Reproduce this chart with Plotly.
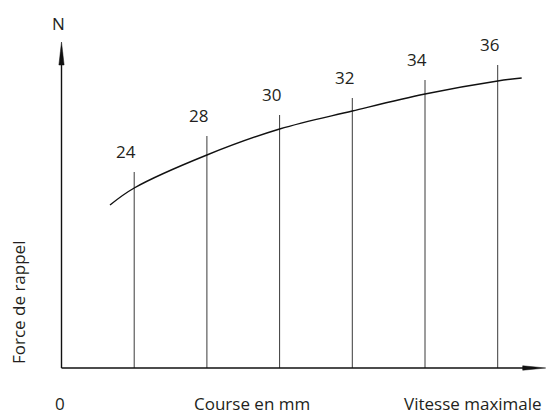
import plotly.graph_objects as go

# ---- data ----
course_labels = ["24", "28", "30", "32", "34", "36"]
course_pos = [1, 2, 3, 4, 5, 6]
line_tops = [196, 232, 253, 270, 288, 303]
curve_x = [0.667, 1, 2, 3, 4, 5, 6, 6.33]
curve_y = [163, 180, 213, 239, 257, 274, 287, 290]

# ---- geometry (axis extents in data units) ----
X_END = 6.66
Y_END = 326
PX_PER_X = 72.7  # pixels per x unit (y unit = 1 px)
X0_PX = 61.5
W, H = 547, 414
Y0_PX = 368

x_range = [-X0_PX / PX_PER_X, (W - X0_PX) / PX_PER_X]
y_range = [Y0_PX - H, Y0_PX]

FONT = "Open Sans"
TXT = "#231f20"
FS = 17

fig = go.Figure()

# vertical lines
for xp, top in zip(course_pos, line_tops):
    fig.add_trace(go.Scatter(x=[xp, xp], y=[0, top], mode="lines",
                             line=dict(color="#3a3a3a", width=1), hoverinfo="skip"))

# curve
fig.add_trace(go.Scatter(x=curve_x, y=curve_y, mode="lines",
                         line=dict(color="#111", width=1.4, shape="spline", smoothing=1.0),
                         hoverinfo="skip"))

# axes lines
fig.add_trace(go.Scatter(x=[0, X_END - 0.2], y=[0, 0], mode="lines",
                         line=dict(color="#111", width=1.4), hoverinfo="skip"))
fig.add_trace(go.Scatter(x=[0, 0], y=[0, Y_END - 10], mode="lines",
                         line=dict(color="#111", width=1.4), hoverinfo="skip"))

# arrow heads
ah_len_x = 23 / PX_PER_X
fig.add_trace(go.Scatter(x=[X_END, X_END - ah_len_x, X_END - ah_len_x, X_END],
                         y=[0, 2.2, -2.2, 0], mode="lines", fill="toself",
                         fillcolor="#111", line=dict(color="#111", width=0.5), hoverinfo="skip"))
hw = 2.6 / PX_PER_X
fig.add_trace(go.Scatter(x=[0, hw, -hw, 0],
                         y=[Y_END, Y_END - 23, Y_END - 23, Y_END], mode="lines", fill="toself",
                         fillcolor="#111", line=dict(color="#111", width=0.5), hoverinfo="skip"))

# labels above vertical lines
for xp, top, lab in zip(course_pos, line_tops, course_labels):
    fig.add_annotation(x=xp - 8 / PX_PER_X, y=top + 21, text=lab, showarrow=False,
                       xanchor="center", yanchor="middle",
                       font=dict(family=FONT, size=FS, color=TXT))

# axis texts
fig.add_annotation(x=-3.5 / PX_PER_X, y=Y0_PX - 23, text="N", showarrow=False,
                   xanchor="center", yanchor="middle", font=dict(family=FONT, size=FS, color=TXT))
fig.add_annotation(x=(18 - X0_PX) / PX_PER_X, y=Y0_PX - 303, text="Force de rappel",
                   textangle=-90, showarrow=False, xanchor="center", yanchor="middle",
                   font=dict(family=FONT, size=FS, color=TXT))
fig.add_annotation(x=(60 - X0_PX) / PX_PER_X, y=Y0_PX - 403, text="0", showarrow=False,
                   xanchor="center", yanchor="middle", font=dict(family=FONT, size=FS, color=TXT))
fig.add_annotation(x=(252 - X0_PX) / PX_PER_X, y=Y0_PX - 403, text="Course en mm",
                   showarrow=False, xanchor="center", yanchor="middle",
                   font=dict(family=FONT, size=FS, color=TXT))
fig.add_annotation(x=(544 - X0_PX) / PX_PER_X, y=Y0_PX - 403, text="Vitesse maximale",
                   showarrow=False, xanchor="right", yanchor="middle",
                   font=dict(family=FONT, size=FS, color=TXT))

fig.update_layout(
    width=W, height=H, margin=dict(l=0, r=0, t=0, b=0),
    paper_bgcolor="white", plot_bgcolor="white", showlegend=False,
    xaxis=dict(range=x_range, visible=False, fixedrange=True),
    yaxis=dict(range=y_range, visible=False, fixedrange=True),
)

fig.write_html("out.html", config={"displayModeBar": False},
               post_script="document.body.style.margin='0';document.body.style.overflow='hidden';")
